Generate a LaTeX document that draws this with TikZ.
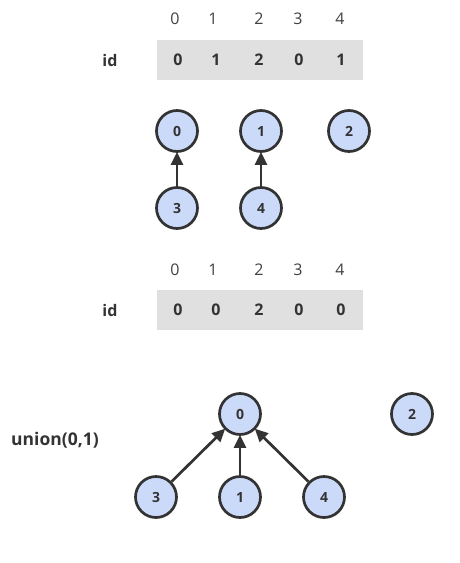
\documentclass[tikz,border=0pt]{standalone}
\usepackage{fontspec}
\setmainfont{Open Sans}
\usetikzlibrary{arrows.meta}
\definecolor{nodefill}{HTML}{CCDAFA}
\definecolor{edge}{HTML}{333333}
\definecolor{cellgray}{HTML}{E0E0E0}
\tikzset{
  uf/.style={circle, draw=edge, line width=2.7pt, fill=nodefill, minimum size=41pt, inner sep=0pt, font=\bfseries\fontsize{14}{16}\selectfont, text=edge},
  link/.style={draw=edge, line width=2.7pt, -{Triangle[length=13pt,width=12pt]}, shorten >=-1pt},
  idx/.style={font=\fontsize{16}{18}\selectfont, text=black!75, inner sep=0pt},
  val/.style={font=\bfseries\fontsize{16}{18}\selectfont, text=edge, inner sep=0pt},
  lbl/.style={font=\bfseries\fontsize{16}{18}\selectfont, text=edge, inner sep=0pt},
  cellbox/.style={fill=cellgray, draw=none}
}
\begin{document}
\begin{tikzpicture}[x=1pt,y=-1pt]
\useasboundingbox (0,0) rectangle (459,563);
% first table
\node[idx] (i0) at (175,19) {0};
\node[idx] (i1) at (213,19) {1};
\node[idx] (i2) at (259,19) {2};
\node[idx] (i3) at (298,19) {3};
\node[idx] (i4) at (340,19) {4};
\fill[cellbox] (157,40) rectangle (363,80);
\node[lbl] (id1) at (110,60) {id};
\node[val] (v0) at (178,60) {0};
\node[val] (v1) at (216,60) {1};
\node[val] (v2) at (259,60) {2};
\node[val] (v3) at (299,60) {0};
\node[val] (v4) at (341,60) {1};
% first forest
\node[uf] (a0) at (177,131) {0};
\node[uf] (a1) at (261,131) {1};
\node[uf] (a2) at (349,131) {2};
\node[uf] (a3) at (177,208) {3};
\node[uf] (a4) at (261,208) {4};
\draw[link] (a3) -- (a0);
\draw[link] (a4) -- (a1);
% second table
\node[idx] (j0) at (175,270) {0};
\node[idx] (j1) at (213,270) {1};
\node[idx] (j2) at (259,270) {2};
\node[idx] (j3) at (298,270) {3};
\node[idx] (j4) at (340,270) {4};
\fill[cellbox] (157,290) rectangle (363,330);
\node[lbl] (id2) at (110,310) {id};
\node[val] (w0) at (178,310) {0};
\node[val] (w1) at (216,310) {0};
\node[val] (w2) at (259,310) {2};
\node[val] (w3) at (299,310) {0};
\node[val] (w4) at (341,310) {0};
% second forest
\node[lbl, font=\bfseries\fontsize{17.5}{20}\selectfont] (un) at (55,440) {union(0,1)};
\node[uf] (b0) at (240,414) {0};
\node[uf] (b2) at (412,414) {2};
\node[uf] (b3) at (156,497) {3};
\node[uf] (b1) at (240,497) {1};
\node[uf] (b4) at (324,497) {4};
\draw[link] (b3) -- (b0);
\draw[link] (b1) -- (b0);
\draw[link] (b4) -- (b0);
\end{tikzpicture}
\end{document}
